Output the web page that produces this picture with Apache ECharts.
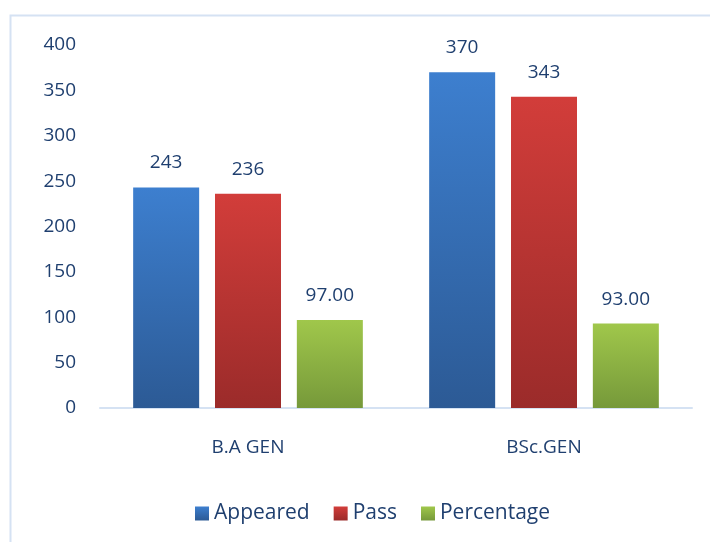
<!DOCTYPE html>
<html>
<head>
<meta charset="utf-8">
<script src="https://cdn.jsdelivr.net/npm/echarts@6/dist/echarts.min.js"></script>
<style>
  html, body { margin: 0; padding: 0; background: #fff; }
  #main { width: 710px; height: 542px; }
</style>
</head>
<body>
<div id="main"></div>
<script>
// 类目与数据
const categories = ['B.A GEN', 'BSc.GEN']
const appeared = [243, 370]
const pass = [236, 343]
const percentage = [97.00, 93.00]
const yTicks = [0, 50, 100, 150, 200, 250, 300, 350, 400]

const textColor = '#1f3f6f'
const font = 'Open Sans'

// 上浅下深的渐变
function grad(top, bottom) {
    return new echarts.graphic.LinearGradient(0, 0, 0, 1, [
        { offset: 0, color: top },
        { offset: 1, color: bottom }
    ])
}

const chart = echarts.init(document.getElementById('main'))

const label = (fmt) => ({
    show: true,
    position: 'top',
    distance: 15,
    color: textColor,
    fontFamily: font,
    fontSize: 19,
    formatter: fmt
})

const option = {
    animation: false,
    backgroundColor: '#fff',
    graphic: [{
        type: 'rect',
        shape: { x: 10.5, y: 15.5, width: 720, height: 560 },
        style: { fill: 'none', stroke: '#d5e2f3', lineWidth: 2 },
        silent: true
    }],
    grid: { left: 100, right: 18, top: 45, bottom: 134 },
    legend: {
        left: 190,
        bottom: 13,
        itemWidth: 14,
        itemHeight: 14,
        itemGap: 24,
        icon: 'rect',
        textStyle: { color: textColor, fontFamily: font, fontSize: 21 },
        data: ['Appeared', 'Pass', 'Percentage']
    },
    xAxis: {
        type: 'category',
        data: categories,
        axisLine: { lineStyle: { color: '#d5e2f3', width: 2 } },
        axisTick: { show: false },
        axisLabel: { color: textColor, fontFamily: font, fontSize: 19, margin: 30 }
    },
    yAxis: {
        type: 'value',
        min: yTicks[0],
        max: yTicks[yTicks.length - 1],
        interval: 50,
        splitLine: { show: false },
        axisLine: { show: false },
        axisTick: { show: false },
        axisLabel: { color: textColor, fontFamily: font, fontSize: 19, margin: 24 }
    },
    series: [
        {
            type: 'bar',
            name: 'Appeared',
            data: appeared,
            barWidth: 66,
            barGap: '24%',
            itemStyle: { color: grad('#3d7fcf', '#2c5a95') },
            label: label('{c}')
        },
        {
            type: 'bar',
            name: 'Pass',
            data: pass,
            barWidth: 66,
            itemStyle: { color: grad('#d23d3a', '#9b2b2a') },
            label: label('{c}')
        },
        {
            type: 'bar',
            name: 'Percentage',
            data: percentage,
            barWidth: 66,
            itemStyle: { color: grad('#a0c74b', '#76993a') },
            label: label((p) => p.value.toFixed(2))
        }
    ]
}

chart.setOption(option)
</script>
</body>
</html>
